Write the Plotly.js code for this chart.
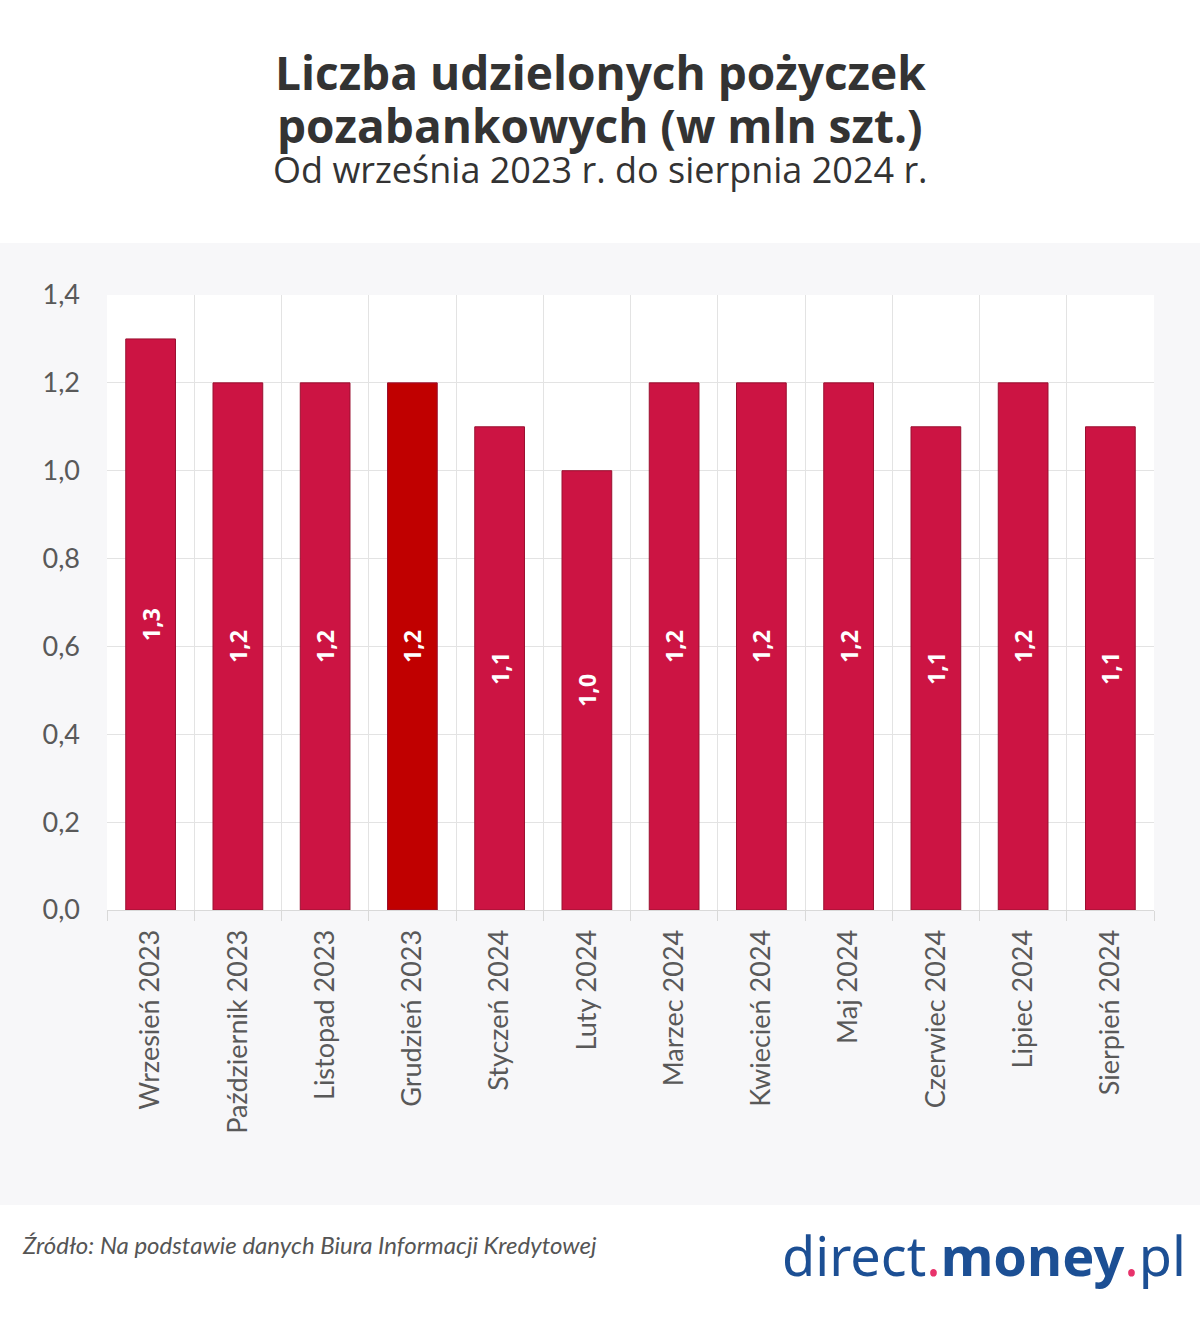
<!DOCTYPE html>
<html><head><meta charset="utf-8">
<script src="https://cdn.plot.ly/plotly-3.0.1.min.js"></script>
<style>html,body{margin:0;padding:0;background:#fff;}#chart{width:1200px;height:1334px;}</style>
</head><body><div id="chart"></div>
<script>
const months = ["Wrzesień 2023","Październik 2023","Listopad 2023","Grudzień 2023","Styczeń 2024","Luty 2024","Marzec 2024","Kwiecień 2024","Maj 2024","Czerwiec 2024","Lipiec 2024","Sierpień 2024"];
const loans = [1.3,1.2,1.2,1.2,1.1,1.0,1.2,1.2,1.2,1.1,1.2,1.1];
const highlightMonth = "Grudzień 2023";
const yTicks = [0,0.2,0.4,0.6,0.8,1.0,1.2,1.4];

const barColors = months.map(m => m === highlightMonth ? "#c00000" : "#cc1443");
const labels = loans.map(v => v.toFixed(1).replace(".", ","));

const fontFam = "Lato, 'Open Sans', sans-serif";

const trace = {
  type: "bar",
  x: months,
  y: loans,
  marker: {color: barColors, line: {color: "#9a1030", width: 1}},
  text: labels,
  texttemplate: "<b>%{text}</b>",
  textposition: "inside",
  insidetextanchor: "middle",
  textangle: -90,
  textfont: {family: "'Open Sans', sans-serif", size: 23, color: "#ffffff"},
  hoverinfo: "skip"
};

function py(Y){ return (910 - Y) / 615; }
function px(X){ return (X - 107) / 1047; }

const layout = {
  width: 1200, height: 1334,
  margin: {l: 107, r: 46, t: 295, b: 424},
  paper_bgcolor: "#ffffff",
  plot_bgcolor: "#ffffff",
  separators: ", ",
  bargap: 0.43,
  showlegend: false,
  font: {family: fontFam, color: "#595959"},
  xaxis: {
    type: "category",
    tickangle: -90,
    tickfont: {family: fontFam, size: 27, color: "#595959"},
    tickson: "boundaries",
    showgrid: true,
    gridcolor: "#e3e3e3",
    gridwidth: 1,
    ticks: "outside",
    ticklen: 10,
    tickcolor: "#d9d9d9",
    ticklabelstandoff: 8,
    showline: true,
    linecolor: "#d9d9d9",
    linewidth: 1,
    zeroline: false,
    fixedrange: true
  },
  yaxis: {
    range: [0, 1.4],
    tickvals: yTicks,
    tickformat: ".1f",
    tickfont: {family: fontFam, size: 27, color: "#595959"},
    showgrid: true,
    gridcolor: "#e3e3e3",
    gridwidth: 1,
    zeroline: false,
    showline: false,
    ticks: "",
    ticklabelstandoff: 26,
    fixedrange: true
  },
  shapes: [
    {type: "rect", xref: "paper", yref: "paper", x0: -0.1022, x1: 1.0440, y0: py(1205), y1: py(243),
     fillcolor: "#f7f7f9", line: {width: 0}, layer: "below"},
    {type: "rect", xref: "paper", yref: "paper", x0: 0, x1: 1, y0: 0, y1: 1,
     fillcolor: "#ffffff", line: {width: 0}, layer: "below"}
  ],
  annotations: [
    {xref: "paper", yref: "paper", x: px(600), y: py(72), xanchor: "center", yanchor: "middle",
     text: "<b>Liczba udzielonych pożyczek</b>",
     showarrow: false,
     font: {family: "'Open Sans', sans-serif", size: 46, color: "#333333"}},
    {xref: "paper", yref: "paper", x: px(600), y: py(125), xanchor: "center", yanchor: "middle",
     text: "<b>pozabankowych (w mln szt.)</b>",
     showarrow: false,
     font: {family: "'Open Sans', sans-serif", size: 46, color: "#333333"}},
    {xref: "paper", yref: "paper", x: px(600), y: py(170), xanchor: "center", yanchor: "middle",
     text: "Od września 2023 r. do sierpnia 2024 r.",
     showarrow: false,
     font: {family: "'Open Sans', sans-serif", size: 36, color: "#333333"}},
    {xref: "paper", yref: "paper", x: px(20), y: py(1244), xanchor: "left", yanchor: "middle",
     text: "<i>Źródło: Na podstawie danych Biura Informacji Kredytowej</i>",
     showarrow: false,
     font: {family: "Lato, sans-serif", size: 24, color: "#555555"}},
    {xref: "paper", yref: "paper", x: px(1188), y: py(1255), xanchor: "right", yanchor: "middle",
     text: "direct<span style=\"color:#e8336b\">.</span><b>money</b><span style=\"color:#e8336b\">.</span>pl",
     showarrow: false,
     font: {family: "'Noto Sans', sans-serif", size: 54, color: "#1c4f94"}}
  ]
};

Plotly.newPlot("chart", [trace], layout, {displayModeBar: false, staticPlot: true});
</script>
</body></html>
